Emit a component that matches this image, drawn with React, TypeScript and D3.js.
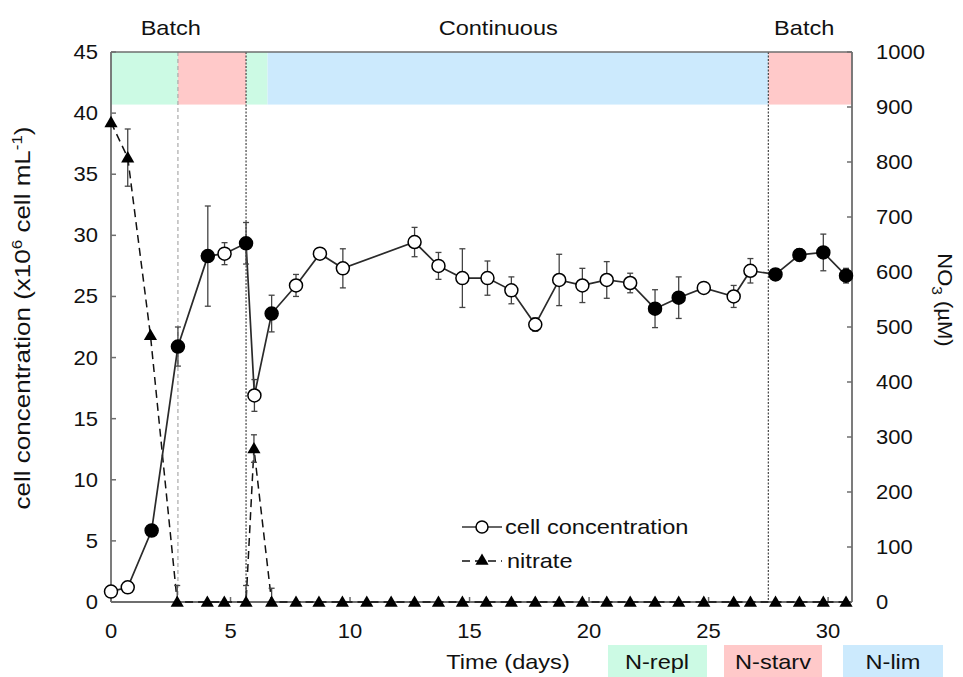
import React from "react";
import * as d3 from "d3";

const cellDays = [0, 0.7, 1.7, 2.8, 4.05, 4.75, 5.65, 6.0, 6.72, 7.74, 8.74, 9.7, 12.7, 13.7, 14.7, 15.75, 16.75, 17.75, 18.75, 19.72, 20.74, 21.72, 22.76, 23.75, 24.8, 26.05, 26.75, 27.8, 28.8, 29.8, 30.75];
const cellValues = [0.85, 1.2, 5.85, 20.9, 28.3, 28.5, 29.35, 16.9, 23.6, 25.9, 28.5, 27.3, 29.45, 27.5, 26.5, 26.5, 25.5, 22.7, 26.35, 25.9, 26.35, 26.1, 24.0, 24.9, 25.7, 25.0, 27.1, 26.8, 28.4, 28.6, 26.7];
const cellErr = [0, 0, 0.3, 1.6, 4.1, 0.9, 1.7, 1.3, 1.5, 0.9, 0, 1.6, 1.2, 1.1, 2.4, 1.4, 1.1, 0.55, 2.1, 1.4, 1.5, 0.8, 1.55, 1.7, 0, 0.9, 1.0, 0, 0.5, 1.5, 0.6];
const cellFilled = [false, false, true, true, true, false, true, false, true, false, false, false, false, false, false, false, false, false, false, false, false, false, true, true, false, false, false, true, true, true, true];

const nitDays = [0, 0.7, 1.65, 2.77, 4.03, 4.74, 5.65, 5.98, 6.72, 7.74, 8.7, 9.68, 10.7, 11.72, 12.7, 13.7, 14.7, 15.7, 16.75, 17.75, 18.75, 19.72, 20.74, 21.72, 22.76, 23.75, 24.8, 26.05, 26.75, 27.8, 28.8, 29.8, 30.75];
const nitValues = [872, 808, 485, 0, 0, 0, 0, 279, 0, 0, 0, 0, 0, 0, 0, 0, 0, 0, 0, 0, 0, 0, 0, 0, 0, 0, 0, 0, 0, 0, 0, 0, 0];
const nitErr = [0, 52, 0, 30, 0, 0, 30, 25, 25, 0, 0, 0, 0, 0, 0, 0, 0, 0, 0, 0, 0, 0, 0, 0, 0, 0, 0, 0, 0, 0, 0, 0, 0];

const leftTicks = [0, 5, 10, 15, 20, 25, 30, 35, 40, 45];
const rightTicks = [0, 100, 200, 300, 400, 500, 600, 700, 800, 900, 1000];
const xTicks = [0, 5, 10, 15, 20, 25, 30];

const phaseStarts = [0, 2.8, 5.65, 6.55, 27.5];
const phaseEnds = [2.8, 5.65, 6.55, 27.5, 31];
const phaseKinds = ["repl", "starv", "repl", "lim", "starv"];
const phaseColors: Record<string, string> = { repl: "#ccfae4", starv: "#ffc9c9", lim: "#cceafd" };

const modeLabels = ["Batch", "Continuous", "Batch"];
const modeCenters = [2.5, 16.2, 29.0];

const FONT = "'Liberation Sans', Arial, sans-serif";

function SText({ x, y, anchor = "start", size = 20, sx = 1.1, children, rotate = 0 }: any) {
  return (
    <text
      transform={`translate(${x},${y}) rotate(${rotate}) scale(${sx},1)`}
      textAnchor={anchor}
      fontSize={size}
      fontFamily={FONT}
      fill="#111"
    >
      {children}
    </text>
  );
}

export default function App() {
  const W = 963, H = 677;
  const x = d3.scaleLinear().domain([0, 31]).range([111, 852]);
  const yL = d3.scaleLinear().domain([0, 45]).range([602, 52]);
  const yR = d3.scaleLinear().domain([0, 1000]).range([602, 52]);
  const axisColor = "#6e6e6e";
  const LS = 20.5, LX = 1.15;

  const cellLine = d3.line<number>().x((_, i) => x(cellDays[i])).y((v) => yL(v))(cellValues) || "";
  const nitLine = d3.line<number>().x((_, i) => x(nitDays[i])).y((v) => yR(v))(nitValues) || "";
  const tri = d3.symbol().type(d3.symbolTriangle).size(75)() || "";
  const bandTop = yL(45), bandBottom = yL(40.7);

  return (
    <svg width={W} height={H} style={{ position: "absolute", left: 0, top: 0, background: "#fff" }}>
      <defs>
        <clipPath id="plotclip">
          <rect x={100} y={40} width={770} height={562} />
        </clipPath>
      </defs>
      {phaseStarts.map((s, i) => (
        <rect key={i} x={x(s)} y={bandTop} width={x(phaseEnds[i]) - x(s)} height={bandBottom - bandTop} fill={phaseColors[phaseKinds[i]]} />
      ))}
      <line x1={x(2.8)} x2={x(2.8)} y1={yL(45)} y2={yL(0)} stroke="#aaa" strokeWidth={1.2} strokeDasharray="4,3" />
      <line x1={x(5.65)} x2={x(5.65)} y1={yL(45)} y2={yL(0)} stroke="#444" strokeWidth={1.2} strokeDasharray="2,1.5" />
      <line x1={x(27.5)} x2={x(27.5)} y1={yL(45)} y2={yL(0)} stroke="#444" strokeWidth={1.2} strokeDasharray="2,1.5" />

      <line x1={x(0)} x2={x(31)} y1={yL(45)} y2={yL(45)} stroke={axisColor} strokeWidth={1.5} />
      <line x1={x(0)} x2={x(0)} y1={yL(0)} y2={yL(45)} stroke={axisColor} strokeWidth={1.8} />
      <line x1={x(31)} x2={x(31)} y1={yL(0)} y2={yL(45)} stroke={axisColor} strokeWidth={1.8} />
      <line x1={x(0)} x2={x(31)} y1={yL(0)} y2={yL(0)} stroke={axisColor} strokeWidth={1.8} />
      {leftTicks.map((t) => (
        <g key={"l" + t}>
          <line x1={x(0)} x2={x(0) + 5} y1={yL(t)} y2={yL(t)} stroke={axisColor} strokeWidth={1.5} />
          <SText x={98} y={yL(t) + 7} anchor="end">{t}</SText>
        </g>
      ))}
      {rightTicks.map((t) => (
        <g key={"r" + t}>
          <line x1={x(31)} x2={x(31) - 5} y1={yR(t)} y2={yR(t)} stroke={axisColor} strokeWidth={1.5} />
          <SText x={876} y={yR(t) + 7} anchor="start">{t}</SText>
        </g>
      ))}
      {xTicks.map((t) => (
        <g key={"x" + t}>
          <line x1={x(t)} x2={x(t)} y1={yL(0)} y2={yL(0) - 5} stroke={axisColor} strokeWidth={1.5} />
          <SText x={x(t)} y={638} anchor="middle">{t}</SText>
        </g>
      ))}

      <path d={nitLine} fill="none" stroke="#111" strokeWidth={1.5} strokeDasharray="8,5" />
      <g clipPath="url(#plotclip)">
        {nitDays.map((d, i) =>
          nitErr[i] > 0 ? (
            <g key={"ne" + i} stroke="#444" strokeWidth={1.3}>
              <line x1={x(d)} x2={x(d)} y1={yR(nitValues[i] - nitErr[i])} y2={yR(nitValues[i] + nitErr[i])} />
              <line x1={x(d) - 3} x2={x(d) + 3} y1={yR(nitValues[i] + nitErr[i])} y2={yR(nitValues[i] + nitErr[i])} />
              <line x1={x(d) - 3} x2={x(d) + 3} y1={yR(nitValues[i] - nitErr[i])} y2={yR(nitValues[i] - nitErr[i])} />
            </g>
          ) : null
        )}
      </g>

      <path d={cellLine} fill="none" stroke="#2a2a2a" strokeWidth={1.7} />
      {cellDays.map((d, i) =>
        cellErr[i] > 0 ? (
          <g key={"ce" + i} stroke="#444" strokeWidth={1.3}>
            <line x1={x(d)} x2={x(d)} y1={yL(cellValues[i] - cellErr[i])} y2={yL(cellValues[i] + cellErr[i])} />
            <line x1={x(d) - 3} x2={x(d) + 3} y1={yL(cellValues[i] + cellErr[i])} y2={yL(cellValues[i] + cellErr[i])} />
            <line x1={x(d) - 3} x2={x(d) + 3} y1={yL(cellValues[i] - cellErr[i])} y2={yL(cellValues[i] - cellErr[i])} />
          </g>
        ) : null
      )}
      {nitDays.map((d, i) => (
        <path key={"nm" + i} d={tri} transform={`translate(${x(d)},${yR(nitValues[i]) + 1})`} fill="#000" />
      ))}
      {cellDays.map((d, i) => (
        <circle key={"cm" + i} cx={x(d)} cy={yL(cellValues[i])} r={6.5} fill={cellFilled[i] ? "#000" : "#fff"} stroke="#000" strokeWidth={1.5} />
      ))}

      <line x1={462} x2={502} y1={527} y2={527} stroke="#333" strokeWidth={1.5} />
      <circle cx={482} cy={527} r={6} fill="#fff" stroke="#000" strokeWidth={1.5} />
      <SText x={505} y={534} size={LS} sx={LX}>cell concentration</SText>
      <line x1={462} x2={502} y1={561} y2={561} stroke="#111" strokeWidth={1.5} strokeDasharray="8,5" />
      <path d={tri} transform={`translate(482,561)`} fill="#000" />
      <SText x={507} y={568} size={LS} sx={LX}>nitrate</SText>

      {modeLabels.map((m, i) => (
        <SText key={"m" + i} x={x(modeCenters[i])} y={35} anchor="middle" size={LS} sx={LX}>{m}</SText>
      ))}

      <SText x={30} y={318} anchor="middle" rotate={-90} size={21.5} sx={1.21}>
        cell concentration (x10<tspan dy={-8} fontSize={14}>6</tspan><tspan dy={8}> cell mL</tspan><tspan dy={-8} fontSize={14}>-1</tspan><tspan dy={8}>)</tspan>
      </SText>
      <SText x={938} y={300} anchor="middle" rotate={90} size={20}>
        NO<tspan dy={6} fontSize={14}>3</tspan><tspan dy={-6}> (µM)</tspan>
      </SText>
      <SText x={508} y={669} anchor="middle" size={LS} sx={LX}>Time  (days)</SText>

      <rect x={608} y={645} width={99} height={32} fill={phaseColors.repl} />
      <SText x={657} y={669} anchor="middle" size={LS} sx={LX}>N-repl</SText>
      <rect x={724} y={645} width={98} height={32} fill={phaseColors.starv} />
      <SText x={773} y={669} anchor="middle" size={LS} sx={LX}>N-starv</SText>
      <rect x={843} y={645} width={100} height={32} fill={phaseColors.lim} />
      <SText x={893} y={669} anchor="middle" size={LS} sx={LX}>N-lim</SText>
    </svg>
  );
}
